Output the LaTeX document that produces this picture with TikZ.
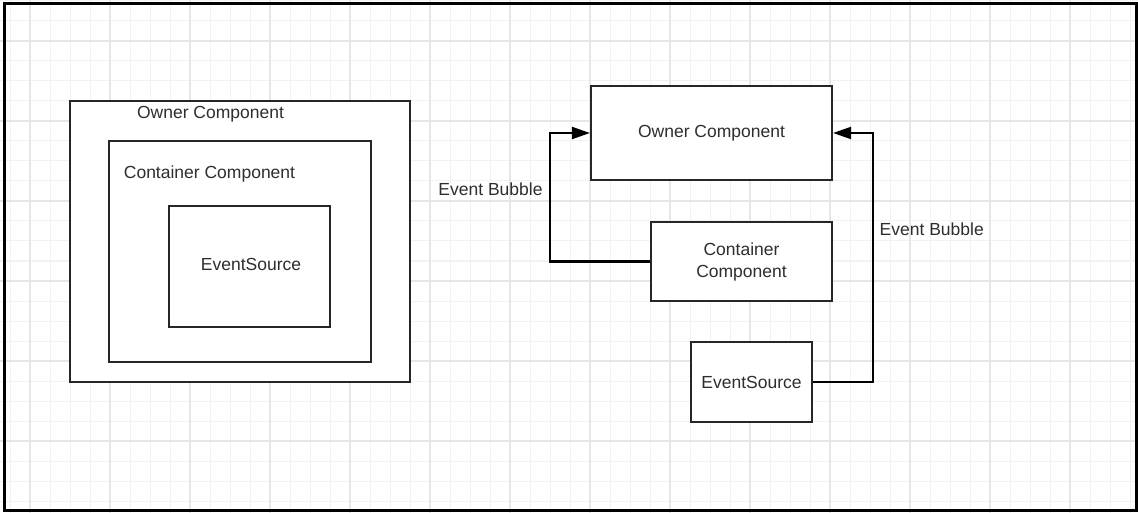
\documentclass[tikz,border=0pt]{standalone}
\usepackage{fontspec}
\setmainfont{Liberation Sans}
\usetikzlibrary{arrows.meta}
\definecolor{gridminor}{HTML}{F2F2F2}
\definecolor{gridmajor}{HTML}{E6E6E6}
\definecolor{boxline}{HTML}{262626}
\definecolor{txt}{HTML}{2E2E2E}
\tikzset{
  minorline/.style={draw=gridminor, line width=1pt},
  majorline/.style={draw=gridmajor, line width=1.2pt},
  box/.style={draw=boxline, line width=2.2pt, fill=white, inner sep=0pt, rectangle},
  lbl/.style={text=txt, font=\fontsize{17.5}{21}\selectfont, inner sep=0pt, align=center},
  arr/.style={draw=black, line width=2.2pt, -{Triangle[length=18pt,width=12pt]}},
}
\begin{document}
\begin{tikzpicture}[x=1pt,y=-1pt]
\useasboundingbox (0,0) rectangle (1138,513);
\fill[white] (0,0) rectangle (1138,513);
% grid
\foreach \x in {10,30,...,1130} \draw[minorline] (\x,0) -- (\x,513);
\foreach \y in {1,21,...,501} \draw[minorline] (0,\y) -- (1138,\y);
\foreach \x in {30,110,...,1070} \draw[majorline] (\x,0) -- (\x,513);
\foreach \y in {41,121,...,441} \draw[majorline] (0,\y) -- (1138,\y);
% outer frame
\draw[line width=3pt, draw=black] (4,3.5) rectangle (1136.5,510.5);

% left nested boxes
\node[box, minimum width=340pt, minimum height=281pt] (lo) at (240,241.5) {};
\node[box, minimum width=262pt, minimum height=221pt] (lc) at (240,251.5) {};
\node[box, minimum width=161pt, minimum height=121pt] (les) at (249.5,266.5) {};
\node[lbl] (lotxt) at (210.5,114) {Owner Component};
\node[lbl] (lctxt) at (209.5,174) {Container Component};
\node[lbl] (lestxt) at (251,264) {EventSource};

% right boxes
\node[box, lbl, minimum width=241pt, minimum height=94pt] (ro) at (711.5,133) {Owner Component};
\node[box, lbl, minimum width=181pt, minimum height=79pt] (rc) at (741.5,261.5) {Container\\[1pt]Component};
\node[box, lbl, minimum width=121pt, minimum height=80pt] (res) at (751.5,382) {EventSource};

% connectors
\coordinate (lb) at (550,261.5);
\coordinate (rb) at (872.7,382);
\draw[arr] (rc.west) -- (lb) |- (ro.west);
\draw[arr] (res.east) -- (rb) |- (ro.east);

\node[lbl] (eb1) at (490.5,189) {Event Bubble};
\node[lbl] (eb2) at (931.7,229) {Event Bubble};
\end{tikzpicture}
\end{document}
